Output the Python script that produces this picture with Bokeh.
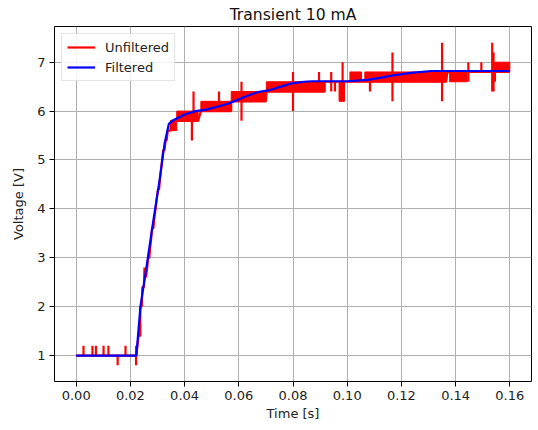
from bokeh.plotting import figure
from bokeh.models import FixedTicker, Range1d, Legend, LegendItem, NumeralTickFormatter
from bokeh.embed import file_html
from bokeh.resources import INLINE

# ---------------- data ----------------
# Filtered signal
filt_t = [0.0, 0.0222, 0.0237, 0.0259, 0.0283, 0.0308, 0.0326, 0.0342, 0.0360, 0.0400,
          0.0440, 0.0480, 0.0520, 0.0560, 0.0600, 0.0630, 0.0670, 0.0715, 0.0755, 0.0790,
          0.0840, 0.0870, 0.1000, 0.1075, 0.1120, 0.1170, 0.1235, 0.1310, 0.1600]
filt_v = [1.0, 1.0, 2.0, 2.8, 3.7, 4.6, 5.33, 5.74, 5.82, 5.93,
          6.0, 6.03, 6.09, 6.15, 6.24, 6.31, 6.39, 6.43, 6.5, 6.56,
          6.6, 6.61, 6.61, 6.64, 6.68, 6.73, 6.78, 6.82, 6.82]

# Unfiltered signal: main path (quantised steps)
unf_t = [0.0, 0.0222, 0.0226, 0.0230, 0.0236, 0.0236, 0.0242, 0.0244, 0.0250, 0.0252,
         0.0258, 0.0262, 0.0266, 0.0270, 0.0273, 0.0277, 0.0280, 0.0285, 0.0288, 0.0293,
         0.0297, 0.0302, 0.0306, 0.0309, 0.0313, 0.0317, 0.0321, 0.0326, 0.0330, 0.0334,
         0.0338, 0.0348, 0.0350, 0.0371, 0.0450, 0.0460, 0.0572, 0.0572, 0.0700, 0.0702,
         0.0917, 0.0917, 0.1365, 0.1370, 0.1600]
unf_v = [1.0, 1.0, 1.2, 1.4, 1.4, 2.0, 2.0, 2.4, 2.4, 2.8,
         2.6, 2.8, 3.0, 3.0, 3.2, 3.4, 3.6, 3.6, 3.8, 4.0,
         4.2, 4.4, 4.4, 4.6, 4.8, 5.0, 5.2, 5.2, 5.4, 5.4,
         5.6, 5.6, 5.8, 5.8, 5.8, 6.0, 6.0, 6.2, 6.2, 6.4,
         6.4, 6.6, 6.6, 6.8, 6.8]

# Unfiltered signal: regions of rapid toggling between two levels
band_t0 = [0.0348, 0.0371, 0.0460, 0.0572, 0.0702, 0.0970, 0.1010, 0.1065, 0.1378, 0.1545]
band_t1 = [0.0371, 0.0450, 0.0572, 0.0700, 0.0917, 0.0990, 0.1053, 0.1365, 0.1442, 0.1600]
band_lo = [5.6, 5.8, 6.0, 6.2, 6.4, 6.2, 6.6, 6.6, 6.6, 6.8]
band_hi = [5.8, 6.0, 6.2, 6.4, 6.6, 6.6, 6.8, 6.8, 6.8, 7.0]

# Unfiltered signal: isolated spikes
spike_t = [0.0027, 0.0060, 0.0073, 0.0101, 0.0119, 0.0153, 0.0182, 0.0221, 0.0236,
           0.0427, 0.0433, 0.0527, 0.0610, 0.0800, 0.0896, 0.0941, 0.0955, 0.0983,
           0.1084, 0.1167, 0.1350, 0.1447, 0.1495, 0.1535, 0.1540, 0.1545]
spike_lo = [1.0, 1.0, 1.0, 1.0, 1.0, 0.8, 1.0, 0.8, 1.4,
            5.4, 5.8, 6.0, 5.8, 6.0, 6.4, 6.4, 6.4, 6.2,
            6.4, 6.2, 6.2, 6.6, 6.8, 6.4, 6.4, 6.6]
spike_hi = [1.2, 1.2, 1.2, 1.2, 1.2, 1.0, 1.2, 1.2, 2.0,
            6.0, 6.4, 6.4, 6.6, 6.8, 6.8, 6.8, 6.6, 7.0,
            6.8, 7.2, 7.4, 7.0, 7.0, 7.4, 7.2, 7.0]

x_ticks = [0.0, 0.02, 0.04, 0.06, 0.08, 0.10, 0.12, 0.14, 0.16]
y_ticks = [1, 2, 3, 4, 5, 6, 7]

title_text = "Transient 10 mA"
x_label = "Time [s]"
y_label = "Voltage [V]"

# ---------------- figure ----------------
FONT = "DejaVu Sans"
RED = "#ff0000"
BLUE = "#0000ff"

p = figure(width=536, height=428, output_backend="svg", toolbar_location=None,
           x_range=Range1d(-0.008, 0.168), y_range=Range1d(0.47, 7.73),
           min_border_left=54, min_border_right=5, min_border_top=0, min_border_bottom=47)

p.title.text = title_text
p.title.align = "center"
p.title.text_font = FONT
p.title.text_font_size = "15.6px"
p.title.text_font_style = "normal"
p.title.text_color = "#111111"
p.title.standoff = 6

p.outline_line_color = "black"
p.outline_line_width = 1
p.outline_line_alpha = 1.0

for ax in (p.xaxis[0], p.yaxis[0]):
    ax.axis_line_color = None
    ax.major_tick_line_color = "black"
    ax.major_tick_out = 5
    ax.major_tick_in = 0
    ax.minor_tick_line_color = None
    ax.major_label_text_font = FONT
    ax.major_label_text_font_size = "13px"
    ax.major_label_text_color = "#222222"
    ax.axis_label_text_font = FONT
    ax.axis_label_text_font_size = "13px"
    ax.axis_label_text_font_style = "normal"
    ax.axis_label_text_color = "#222222"
    ax.major_label_standoff = 4

p.xaxis[0].ticker = FixedTicker(ticks=x_ticks)
p.xaxis[0].formatter = NumeralTickFormatter(format="0.00")
p.yaxis[0].ticker = FixedTicker(ticks=y_ticks)
p.xaxis[0].axis_label = x_label
p.yaxis[0].axis_label = y_label
p.xaxis[0].axis_label_standoff = 3
p.yaxis[0].axis_label_standoff = 8

p.xgrid.grid_line_color = "#b0b0b0"
p.ygrid.grid_line_color = "#b0b0b0"
p.xgrid.grid_line_width = 1
p.ygrid.grid_line_width = 1
p.xgrid.ticker = FixedTicker(ticks=x_ticks)
p.ygrid.ticker = FixedTicker(ticks=y_ticks)

# unfiltered
p.quad(left=band_t0, right=band_t1, bottom=band_lo, top=band_hi,
       fill_color=RED, line_color=RED, line_width=1)
p.segment(x0=spike_t, y0=spike_lo, x1=spike_t, y1=spike_hi,
          line_color=RED, line_width=2.2)
r_unf = p.line(unf_t, unf_v, line_color=RED, line_width=2.2)
# filtered
r_filt = p.line(filt_t, filt_v, line_color=BLUE, line_width=2.2)

legend = Legend(items=[LegendItem(label="Unfiltered", renderers=[r_unf]),
                       LegendItem(label="Filtered", renderers=[r_filt])],
                location="top_left")
legend.label_text_font = FONT
legend.label_text_font_size = "13px"
legend.label_text_color = "#222222"
legend.border_line_color = "#cccccc"
legend.border_line_width = 1
legend.background_fill_alpha = 0.85
legend.margin = 7
legend.padding = 5
legend.spacing = 4
legend.glyph_width = 28
legend.glyph_height = 16
legend.label_height = 16
legend.label_standoff = 10
p.add_layout(legend)

open("out.html", "w").write(file_html(p, INLINE))
